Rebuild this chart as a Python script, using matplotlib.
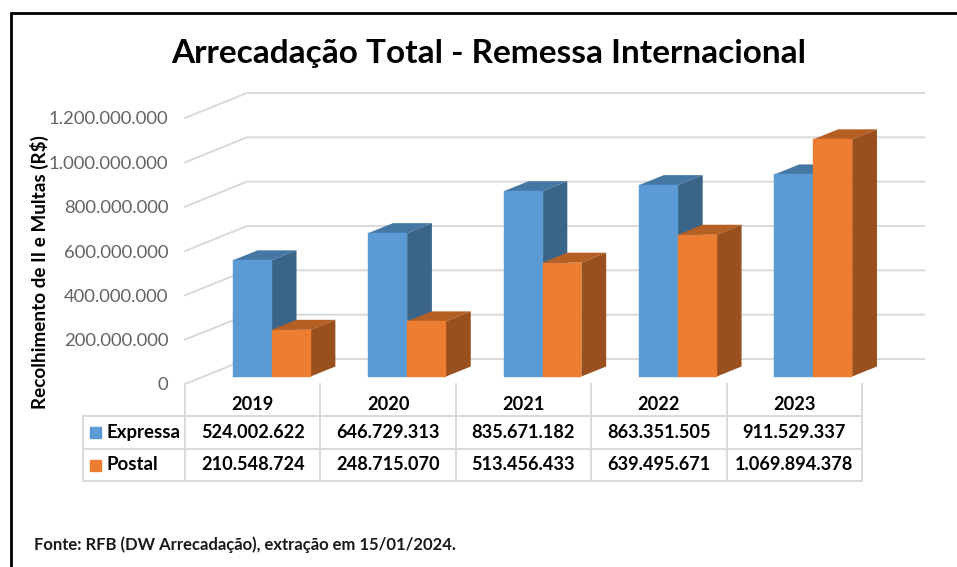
import matplotlib
matplotlib.use('Agg')
import matplotlib.pyplot as plt
from matplotlib.patches import Polygon, Rectangle
from matplotlib.ticker import FuncFormatter

plt.rcParams['font.family'] = ['Lato', 'DejaVu Sans']

anos = ['2019', '2020', '2021', '2022', '2023']
expressa = [524002622, 646729313, 835671182, 863351505, 911529337]
postal = [210548724, 248715070, 513456433, 639495671, 1069894378]
series = ['Expressa', 'Postal']
yticks = [0, 200000000, 400000000, 600000000, 800000000, 1000000000, 1200000000]

W, H = 957, 567
# front plane of the fake 3D box, in pixels
LEFT, RIGHT, BASE, TOP = 185, 862, 384, 118
DX = 62 / 135.4   # depth shift, in categories
DY = 25 / 266 * 1200000000   # depth shift, in R$
D0, D1 = 0.3, 0.7   # where the bars sit in the depth
BAR = 0.287

fig = plt.figure(figsize=(W / 100, H / 100), dpi=100)
ax = fig.add_axes([LEFT / W, 1 - BASE / H, (RIGHT - LEFT) / W, (BASE - TOP) / H])
ax.set_xlim(0, 5)
ax.set_ylim(0, 1200000000)
for s in ax.spines.values():
    s.set_visible(False)
ax.patch.set_alpha(0)


def proj(x, y, d):
    return x + d * DX, y + d * DY


def dots(v, pos=None):
    return f'{int(v):,}'.replace(',', '.')


grid = '#d9d9d9'
for v in yticks:
    ax.plot([0, DX, 5 + DX], [v, v + DY, v + DY], color=grid, lw=1.4, clip_on=False, zorder=1)

ax.set_xticks([])
ax.set_yticks(yticks)
ax.yaxis.set_major_formatter(FuncFormatter(dots))
ax.tick_params(axis='y', length=0, pad=12, labelsize=13.3, labelcolor='#636363')


def bar3d(x0, v, front, top, side, z):
    x1 = x0 + BAR
    fx, fy = proj(x0, 0, D0)
    ax.bar(fx, v, BAR, bottom=fy, align='edge', color=front, edgecolor=front, lw=0.3,
           clip_on=False, zorder=z + 0.2)
    top_pts = [proj(x0, v, D0), proj(x1, v, D0), proj(x1, v, D1), proj(x0, v, D1)]
    side_pts = [proj(x1, 0, D0), proj(x1, v, D0), proj(x1, v, D1), proj(x1, 0, D1)]
    ax.add_patch(Polygon(top_pts, facecolor=top, edgecolor='none', clip_on=False, zorder=z))
    ax.add_patch(Polygon(side_pts, facecolor=side, edgecolor='none', clip_on=False, zorder=z + 0.1))


for i in range(len(anos)):
    bar3d(i + 0.503 - BAR, expressa[i], '#5b9bd5', '#4577a5', '#3a6488', 2 + i)
    bar3d(i + 0.503, postal[i], '#ed7d31', '#b65f23', '#9a501e', 2.5 + i)

ax.set_ylabel('Recolhimento de II e Multas (R$)', fontsize=13.6, fontweight='bold', color='black')
ax.yaxis.set_label_coords((49 - LEFT) / (RIGHT - LEFT), (BASE - 272) / (BASE - TOP))

# page overlay in pixel coordinates: frame, title, data table, source
pg = fig.add_axes([0, 0, 1, 1], zorder=5)
pg.set_xlim(0, W)
pg.set_ylim(H, 0)
pg.axis('off')

pg.plot([10.5, 10.5, W], [H, 12.5, 12.5], color='black', lw=2, solid_joinstyle='miter')
pg.text(489, 53, 'Arrecadação Total - Remessa Internacional', fontsize=24, fontweight='bold',
        ha='center', va='center', color='black')

col_w = (RIGHT - LEFT) / 5
rows_y = [416, 449, 481]
for y in rows_y:
    pg.plot([83, RIGHT], [y, y], color=grid, lw=1.4)
pg.plot([83, 83], [rows_y[0], rows_y[2]], color=grid, lw=1.4)
for i in range(6):
    pg.plot([LEFT + i * col_w] * 2, [BASE, rows_y[2]], color=grid, lw=1.4)

colors = ['#5b9bd5', '#ed7d31']
for r, (nome, vals) in enumerate(zip(series, [expressa, postal])):
    yc = (rows_y[r] + rows_y[r + 1]) / 2
    pg.add_patch(Rectangle((90, yc - 5.5), 11, 11, color=colors[r]))
    pg.text(106, yc, nome, fontsize=13.4, fontweight='bold', va='center', color='black')
    for i, v in enumerate(vals):
        pg.text(LEFT + (i + 0.5) * col_w, yc, dots(v), fontsize=13.1, fontweight='bold',
                ha='center', va='center', color='black')
for i, a in enumerate(anos):
    pg.text(LEFT + (i + 0.5) * col_w, 404, a, fontsize=13.1, fontweight='bold',
            ha='center', va='center', color='black')

pg.text(34, 545, 'Fonte: RFB (DW Arrecadação), extração em 15/01/2024.', fontsize=12,
        fontweight='bold', va='center', color='#1a1a1a')

fig.savefig('out.png', dpi=100)
